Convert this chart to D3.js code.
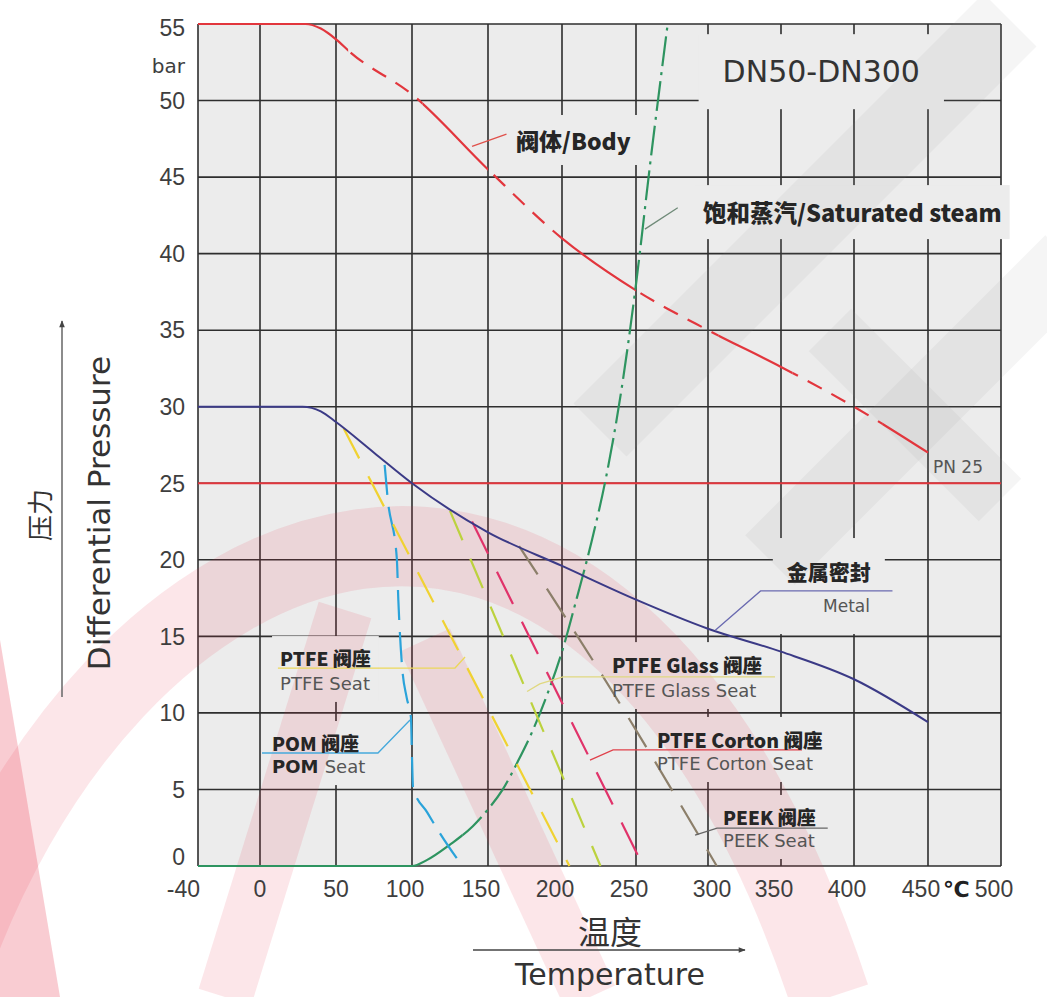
<!DOCTYPE html>
<html>
<head>
<meta charset="utf-8">
<script src="https://cdn.jsdelivr.net/npm/d3@7"></script>
<style>
  body { margin: 0; background: #fff; }
  text { font-family: "DejaVu Sans", sans-serif; }
  .cjk { font-family: "Noto Sans CJK SC", sans-serif; }
  .tick { font-family: "Liberation Sans", Arial, sans-serif; font-size: 23px; fill: #3e3e3e; }
</style>
</head>
<body>
<div id="chart"></div>
<script>
////////////////////////////////////////////////////////
//////////////////// Data //////////////////////////////
////////////////////////////////////////////////////////

const xTicks = [-40, 0, 50, 100, 150, 200, 250, 300, 350, 400, 450, 500];
const yTicks = [0, 5, 10, 15, 20, 25, 30, 35, 40, 45, 50, 55];

// [temperature °C, pressure bar]
const bodyCurve = [[-40, 55], [30, 55], [40, 54.7], [50, 54], [60, 53.1], [100, 50.4], [150, 45.5],
  [200, 41], [250, 37.6], [300, 35], [350, 32.6], [400, 30], [450, 27]];
const bodySolid = [[-40, 58], [107, 150], [200, 250], [307, 358], [419, 450]];

const pn25Line = [[-40, 25], [500, 25]];

const metalCurve = [[-40, 30], [28, 30], [40, 29.7], [50, 29], [75, 27], [100, 25], [150, 21.8],
  [200, 19.6], [250, 17.4], [300, 15.5], [350, 14], [400, 12.2], [450, 9.4]];

const steamCurve = [[-40, 0], [100, 0], [110, 0.4], [125, 1.4], [140, 2.6], [150, 3.7], [160, 5],
  [170, 6.8], [180, 8.8], [190, 11.2], [200, 14], [210, 17.5], [220, 21.2], [230, 25.5],
  [240, 31], [250, 38], [260, 46], [272, 55]];
const steamSolid = [[-40, 133]];

const pomSeat = [[82, 26.2], [84, 24], [90, 20.1], [91, 17.4], [93.5, 13], [96.5, 11], [99.3, 9.7],
  [100, 7.1], [100.7, 5.1], [110, 3.5], [118, 2.2], [133, 0]];
const ptfeSeat = [[55, 28.6], [205, 0]];
const ptfeGlassSeat = [[125, 23.2], [226, 0]];
const ptfeCortonSeat = [[139.5, 22.5], [255, 0]];
const peekSeat = [[171, 20.9], [234, 11.4], [306, 0]];

////////////////////////////////////////////////////////
//////////////////// Setup /////////////////////////////
////////////////////////////////////////////////////////

const width = 1047, height = 997;
const plotBg = "#ececec";

const svg = d3.select("#chart").append("svg")
  .attr("width", width)
  .attr("height", height);

// grid is hand drawn, spacing is not quite even
const x = d3.scaleLinear()
  .domain(xTicks)
  .range([198, 260, 336, 412, 488, 562, 636, 708, 781, 854, 928, 1001]);

const y = d3.scaleLinear()
  .domain([0, 55])
  .range([866, 24]);

const line = d3.line().x(d => x(d[0])).y(d => y(d[1])).curve(d3.curveMonotoneX);
const straight = d3.line().x(d => x(d[0])).y(d => y(d[1]));

const defs = svg.append("defs");

defs.append("marker")
  .attr("id", "arrow")
  .attr("viewBox", "0 0 10 10")
  .attr("refX", 9).attr("refY", 5)
  .attr("markerWidth", 9).attr("markerHeight", 7)
  .attr("markerUnits", "userSpaceOnUse")
  .attr("orient", "auto")
  .append("path")
  .attr("d", "M0,1 L10,5 L0,9 Z")
  .attr("fill", "#444");

// clip paths for solid / broken stretches of a curve
function rangeClip(id, ranges) {
  const cp = defs.append("clipPath").attr("id", id);
  ranges.forEach(r => {
    cp.append("rect")
      .attr("x", x(r[0]))
      .attr("y", 0)
      .attr("width", x(r[1]) - x(r[0]))
      .attr("height", height);
  });
}
function gaps(ranges, end) {
  const out = [];
  for (let i = 0; i < ranges.length; i++) {
    const next = i + 1 < ranges.length ? ranges[i + 1][0] : end;
    if (next > ranges[i][1]) out.push([ranges[i][1], next]);
  }
  return out;
}
rangeClip("body-solid", bodySolid);
rangeClip("body-dash", gaps(bodySolid, 500));
rangeClip("steam-solid", steamSolid);
rangeClip("steam-dash", gaps(steamSolid, 500));

////////////////////////////////////////////////////////
//////////////////// Background / grid /////////////////
////////////////////////////////////////////////////////

svg.append("rect")
  .attr("x", x(-40)).attr("y", y(55))
  .attr("width", x(500) - x(-40)).attr("height", y(0) - y(55))
  .attr("fill", plotBg);

const grid = svg.append("g").attr("stroke", "#2e2e2e").attr("stroke-width", 1.6);
grid.selectAll(".v")
  .data(xTicks)
  .join("line")
  .attr("x1", d => x(d)).attr("x2", d => x(d))
  .attr("y1", y(0)).attr("y2", y(55));
grid.selectAll(".h")
  .data(yTicks)
  .join("line")
  .attr("x1", x(-40)).attr("x2", x(500))
  .attr("y1", d => y(d)).attr("y2", d => y(d));

const maskLayer = svg.append("g");
const wmLayer = svg.append("g");
const curveLayer = svg.append("g").attr("fill", "none").attr("stroke-linecap", "butt");
const leaderLayer = svg.append("g").attr("fill", "none").attr("stroke-width", 1.3);
const labelLayer = svg.append("g");

// watermark (logo behind the chart)
const wmGrey = wmLayer.append("g").attr("stroke", "#8c8c8c").attr("stroke-opacity", 0.09).attr("fill", "none");
wmGrey.append("path").attr("d", "M 600 430 L 1010 20").attr("stroke-width", 75);
wmGrey.append("path").attr("d", "M 770 560 L 1070 260").attr("stroke-width", 70);
wmGrey.append("path").attr("d", "M 830 330 L 1000 500").attr("stroke-width", 60);

const wmPink = wmLayer.append("g").attr("stroke", "#e8324a").attr("stroke-opacity", 0.12).attr("fill", "none");
wmPink.append("path").attr("d", "M -60 997 C 100 500, 600 300, 830 997").attr("stroke-width", 80);
wmPink.append("path").attr("d", "M 345 610 L 225 997").attr("stroke-width", 55);
wmPink.append("path").attr("d", "M 425 640 L 590 997").attr("stroke-width", 55);
wmLayer.append("path").attr("d", "M 0 640 L 60 997 L 0 997 Z").attr("fill", "#e8324a").attr("opacity", 0.25);

////////////////////////////////////////////////////////
//////////////////// Curves ////////////////////////////
////////////////////////////////////////////////////////

curveLayer.append("path").datum(pn25Line)
  .attr("d", straight).attr("stroke", "#e2363d").attr("stroke-width", 2.2);

curveLayer.append("path").datum(bodyCurve)
  .attr("d", line).attr("stroke", "#e2363d").attr("stroke-width", 2.2)
  .attr("clip-path", "url(#body-solid)");
curveLayer.append("path").datum(bodyCurve)
  .attr("d", line).attr("stroke", "#e2363d").attr("stroke-width", 2.2)
  .attr("stroke-dasharray", "16,11")
  .attr("clip-path", "url(#body-dash)");

curveLayer.append("path").datum(steamCurve)
  .attr("d", line).attr("stroke", "#2e9460").attr("stroke-width", 2.2)
  .attr("clip-path", "url(#steam-solid)");
curveLayer.append("path").datum(steamCurve)
  .attr("d", line).attr("stroke", "#2e9460").attr("stroke-width", 2.2)
  .attr("stroke-dasharray", "30,6,3,6")
  .attr("clip-path", "url(#steam-dash)");

const seats = [
  { d: pomSeat, color: "#2aa3da", dash: "30,12", gen: line },
  { d: ptfeSeat, color: "#f0d232", dash: "34,20", gen: straight },
  { d: ptfeGlassSeat, color: "#bcd23e", dash: "32,20", gen: straight },
  { d: ptfeCortonSeat, color: "#e0336a", dash: "36,20", gen: straight },
  { d: peekSeat, color: "#8c7f6a", dash: "34,17", gen: line }
];
seats.forEach(s => {
  curveLayer.append("path").datum(s.d)
    .attr("d", s.gen).attr("stroke", s.color).attr("stroke-width", 2.2)
    .attr("stroke-dasharray", s.dash);
});

curveLayer.append("path").datum(metalCurve)
  .attr("d", line).attr("stroke", "#3b3a86").attr("stroke-width", 2);

////////////////////////////////////////////////////////
//////////////////// Callouts //////////////////////////
////////////////////////////////////////////////////////

const leaders = [
  { pts: [[139.5, 47.0], [162.5, 47.8]], color: "#e0504a" },
  { pts: [[256.2, 41.6], [279, 43.0]], color: "#6f8a78" },
  { pts: [[305, 15.4], [336, 17.97], [426, 17.97]], color: "#6a6ab0" },
  { pts: [[11.8, 12.93], [128.3, 12.93], [134.9, 13.65]], color: "#ecd75a" },
  { pts: [[1.3, 7.38], [77.6, 7.38], [98.7, 9.54]], color: "#45a9dc" },
  { pts: [[176.4, 11.4], [185, 11.9], [200.7, 12.35], [345.9, 12.35]], color: "#e0d880" },
  { pts: [[218.9, 6.92], [234.5, 7.58], [364.4, 7.58]], color: "#e0404a" },
  { pts: [[291, 2.02], [306.2, 2.48], [382, 2.48]], color: "#666" }
];
leaderLayer.selectAll("path")
  .data(leaders)
  .join("path")
  .attr("d", d => straight(d.pts))
  .attr("stroke", d => d.color);

// label groups: each line is [text, bold?, size, t, p]
const labels = [
  { pad: [8, 16], lines: [["阀体/Body", true, 23, 169, 46.77]] },
  { pad: [10, 8], lines: [["饱和蒸汽/Saturated steam", true, 23.5, 296.5, 42.06]] },
  { pad: [20, 24], lines: [["DN50-DN300", false, 30, 310, 51.2]] },
  { pad: null, lines: [["PN 25", false, 17, 453.4, 25.67]] },
  { pad: [18, 14], lines: [["金属密封", true, 21, 354, 18.68], ["Metal", false, 17, 378.8, 16.59]] },
  { pad: [8, 8], lines: [["PTFE 阀座", true, 19, 13.2, 13.06], ["PTFE Seat", false, 18, 13.2, 11.5]] },
  { pad: [8, 8], lines: [["POM 阀座", true, 19, 7.9, 7.51], ["POM|Seat", false, 18, 7.9, 6.07]] },
  { pad: [8, 8], lines: [["PTFE Glass 阀座", true, 19.5, 233.8, 12.6], ["PTFE Glass Seat", false, 18, 233.8, 11.04]] },
  { pad: [8, 8], lines: [["PTFE Corton 阀座", true, 19.5, 264.6, 7.71], ["PTFE Corton Seat", false, 18, 264.6, 6.27]] },
  { pad: [8, 8], lines: [["PEEK 阀座", true, 19, 310.3, 2.68], ["PEEK Seat", false, 18, 310.3, 1.24]] }
];

labels.forEach(g => {
  const grp = labelLayer.append("g");
  g.lines.forEach(l => {
    const t = grp.append("text")
      .attr("x", x(l[3]))
      .attr("y", y(l[4]))
      .attr("font-size", l[2]);
    if (l[1]) {
      t.attr("class", "cjk").attr("font-weight", 900).attr("fill", "#262626").text(l[0]);
    } else if (l[0].includes("|")) {
      const parts = l[0].split("|");
      t.append("tspan").attr("font-weight", "bold").attr("fill", "#262626").text(parts[0] + " ");
      t.append("tspan").attr("fill", "#555").text(parts[1]);
    } else {
      t.attr("fill", l[2] >= 30 ? "#333" : "#555").text(l[0]);
    }
  });
  if (g.pad) {
    const b = grp.node().getBBox();
    maskLayer.append("rect")
      .attr("x", b.x - g.pad[1]).attr("y", b.y - g.pad[0])
      .attr("width", b.width + 2 * g.pad[1]).attr("height", b.height + 2 * g.pad[0])
      .attr("fill", plotBg);
  }
});

////////////////////////////////////////////////////////
//////////////////// Axes //////////////////////////////
////////////////////////////////////////////////////////

const yShift = { 0: -9, 55: 4 };
svg.append("g").selectAll("text")
  .data(yTicks)
  .join("text")
  .attr("class", "tick")
  .attr("x", 185)
  .attr("y", d => y(d) + (yShift[d] || 0))
  .attr("dy", "0.36em")
  .attr("text-anchor", "end")
  .text(d => d);

svg.append("text")
  .attr("x", 185).attr("y", 73)
  .attr("text-anchor", "end")
  .attr("font-size", 20).attr("fill", "#3e3e3e")
  .text("bar");

const xShift = { "-40": 2, "0": 0, "50": 0, "300": 4 };
svg.append("g").selectAll("text")
  .data(xTicks)
  .join("text")
  .attr("class", "tick")
  .attr("x", d => x(d) + (xShift[d] !== undefined ? xShift[d] : -7))
  .attr("y", 897)
  .attr("text-anchor", d => d === -40 ? "end" : "middle")
  .text(d => d);

svg.append("text")
  .attr("x", x(450) + 15).attr("y", 897)
  .attr("font-size", 22).attr("font-weight", "bold").attr("fill", "#222")
  .text("℃");

// x title
svg.append("text")
  .attr("class", "cjk")
  .attr("x", 610).attr("y", 944)
  .attr("text-anchor", "middle")
  .attr("font-size", 32).attr("fill", "#333")
  .text("温度");
svg.append("line")
  .attr("x1", 473).attr("x2", 745).attr("y1", 950).attr("y2", 950)
  .attr("stroke", "#444").attr("stroke-width", 1.5)
  .attr("marker-end", "url(#arrow)");
svg.append("text")
  .attr("x", 610).attr("y", 985)
  .attr("text-anchor", "middle")
  .attr("font-size", 30).attr("fill", "#333")
  .text("Temperature");

// y title
svg.append("line")
  .attr("x1", 62).attr("x2", 62).attr("y1", 697).attr("y2", 321)
  .attr("stroke", "#666").attr("stroke-width", 1.5)
  .attr("marker-end", "url(#arrow)");
svg.append("text")
  .attr("class", "cjk")
  .attr("transform", "translate(50,515) rotate(-90)")
  .attr("text-anchor", "middle")
  .attr("font-size", 26).attr("fill", "#333")
  .text("压力");
svg.append("text")
  .attr("transform", "translate(110,513) rotate(-90)")
  .attr("text-anchor", "middle")
  .attr("font-size", 31).attr("fill", "#333")
  .text("Differential Pressure");
</script>
</body>
</html>
